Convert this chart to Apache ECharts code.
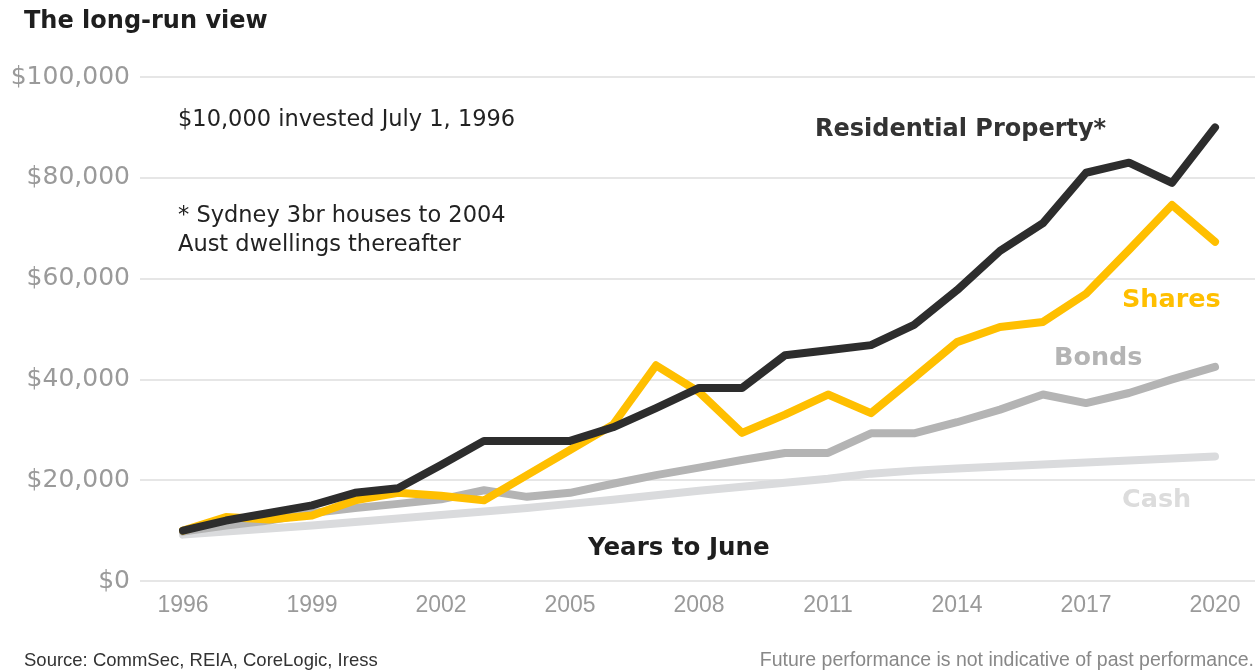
<!DOCTYPE html>
<html>
<head>
<meta charset="utf-8">
<title>The long-run view</title>
<script src="https://cdn.jsdelivr.net/npm/echarts@6/dist/echarts.min.js"></script>
<style>
  html, body { margin: 0; padding: 0; background: #fff; }
  #chart { width: 1255px; height: 671px; }
</style>
</head>
<body>
<div id="chart"></div>
<script>
  // years to June
  var years = [1996, 1997, 1998, 1999, 2000, 2001, 2002, 2003, 2004, 2005, 2006, 2007, 2008,
    2009, 2010, 2011, 2012, 2013, 2014, 2015, 2016, 2017, 2018, 2019, 2020];
  var yearTicks = [1996, 1999, 2002, 2005, 2008, 2011, 2014, 2017, 2020];

  // value of $10,000 invested July 1, 1996
  var property = [10000, 12000, 13500, 15000, 17500, 18400, 23000, 27800, 27800, 27800, 30500, 34300, 38300,
    38300, 44800, 45800, 46800, 50800, 57700, 65500, 71000, 81000, 83000, 79000, 90000];
  var shares = [10000, 12700, 12200, 13000, 16000, 17500, 16900, 16000, 21000, 26000, 31000, 42800, 37500,
    29400, 33000, 37000, 33300, 40300, 47400, 50400, 51400, 57000, 65700, 74600, 67300];
  var bonds = [9800, 11000, 12000, 13500, 14500, 15300, 16200, 18000, 16700, 17500, 19300, 21000, 22500,
    24000, 25400, 25400, 29300, 29300, 31500, 34000, 37000, 35300, 37300, 40000, 42500];
  var cash = [9200, 9800, 10400, 11000, 11700, 12400, 13100, 13800, 14500, 15300, 16100, 17000, 17900,
    18700, 19500, 20300, 21300, 21900, 22300, 22700, 23100, 23500, 23900, 24300, 24700];

  function pairs (vals) {
    return years.map(function (y, i) { return [y, vals[i]]; });
  }

  var font = '"Liberation Sans", Arial, Helvetica, sans-serif';
  var wide = '"DejaVu Sans", Verdana, sans-serif';

  function lineSeries (name, vals, color, z) {
    return {
      name: name,
      type: 'line',
      data: pairs(vals),
      symbol: 'none',
      z: z,
      lineStyle: { color: color, width: 8, cap: 'round', join: 'round' },
      animation: false
    };
  }

  // text placed by its left edge (or right edge) and vertical middle
  function txt (text, x, y, size, color, weight, family, align) {
    return {
      type: 'text',
      style: {
        text: text,
        x: x,
        y: y,
        align: align || 'left',
        verticalAlign: 'middle',
        font: (weight || 'normal') + ' ' + size + 'px ' + (family || wide),
        fill: color
      }
    };
  }

  var myChart = echarts.init(document.getElementById('chart'));
  myChart.setOption({
    animation: false,
    grid: { left: 140, right: 0, top: 77, bottom: 90 },
    xAxis: {
      type: 'value',
      min: 1995,
      max: 2020.93,
      axisLine: { show: false },
      axisTick: { show: false },
      splitLine: { show: false },
      axisLabel: {
        customValues: yearTicks,
        color: '#9a9a9a',
        fontSize: 23,
        fontFamily: font,
        margin: 13,
        formatter: function (v) { return String(v); }
      }
    },
    yAxis: {
      type: 'value',
      min: 0,
      max: 100000,
      interval: 20000,
      axisLine: { show: false },
      axisTick: { show: false },
      splitLine: { lineStyle: { color: '#e6e6e6', width: 2 } },
      axisLabel: {
        color: '#9a9a9a',
        fontSize: 25,
        fontFamily: wide,
        margin: 10,
        formatter: function (v) { return '$' + v.toLocaleString('en-US'); }
      }
    },
    series: [
      lineSeries('Cash', cash, '#dadbdd', 2),
      lineSeries('Bonds', bonds, '#b4b4b4', 3),
      lineSeries('Shares', shares, '#ffbf00', 4),
      lineSeries('Residential Property', property, '#2d2d2d', 5)
    ],
    graphic: [
      txt('The long-run view', 24, 22, 24, '#1e1e1e', 'bold'),
      txt('$10,000 invested July 1, 1996', 178, 120, 22.5, '#222'),
      txt('* Sydney 3br houses to 2004', 178, 216, 22.5, '#222'),
      txt('Aust dwellings thereafter', 178, 245, 22.5, '#222'),
      txt('Residential Property*', 815, 130, 24, '#333', 'bold'),
      txt('Shares', 1122, 300, 25.5, '#ffbf00', 'bold'),
      txt('Bonds', 1054, 358, 25.5, '#b4b4b4', 'bold'),
      txt('Cash', 1122, 500, 25.5, '#dcdcdc', 'bold'),
      txt('Years to June', 588, 549, 24.5, '#1e1e1e', 'bold'),
      txt('Source: CommSec, REIA, CoreLogic, Iress', 24, 661, 18.5, '#333', 'normal', font),
      txt('Future performance is not indicative of past performance.', 1254, 661, 19.5, '#888', 'normal', font, 'right')
    ]
  });
</script>
</body>
</html>
